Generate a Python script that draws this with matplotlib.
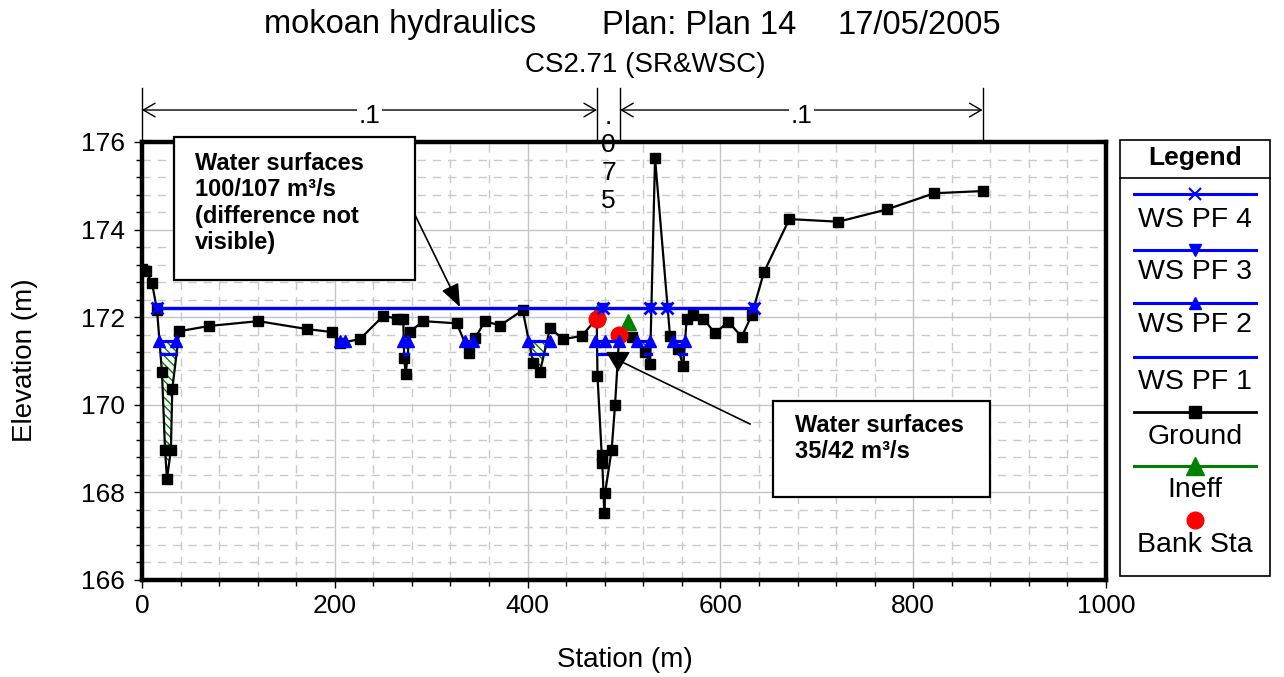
import numpy as np
import matplotlib
matplotlib.use("Agg")
import matplotlib.pyplot as plt
import matplotlib.transforms as mtrans
from matplotlib.patches import Rectangle
from matplotlib.ticker import MultipleLocator

plt.rcParams['font.family'] = ['Liberation Sans', 'DejaVu Sans']
plt.rcParams['hatch.linewidth'] = 1.0

# ---------------- data ----------------
ground_sta = [0, 4, 10.4, 15.6, 20.7, 23.9, 25.9, 30.0, 31.4, 38.7, 69.8, 120.6, 170.9,
              197.4, 205.4, 226.1, 250.3, 264.2, 271.0, 272.0, 273.6, 278.0, 291.8,
              326.5, 339.5, 345.4, 355.8, 371.4, 394.9, 405.9, 412.9, 423.2, 437.0,
              456.1, 471.7, 472.5, 476.9, 477.5, 479.6, 480.3, 487.2, 490.7, 495.1,
              508.0, 521.8, 527.0, 532.2, 547.7, 556.3, 561.5, 565.0, 571.9, 582.3,
              594.4, 608.2, 622.1, 632.5, 645.2, 671.5, 722.3, 772.5, 821.9, 872.1]
ground_elev = [173.10, 173.05, 172.78, 172.16, 170.75, 168.97, 168.31, 168.97, 170.36,
               171.68, 171.80, 171.91, 171.73, 171.66, 171.41, 171.50, 172.03, 171.97,
               171.97, 171.06, 170.70, 171.67, 171.91, 171.86, 171.18, 171.52, 171.91,
               171.81, 172.16, 170.95, 170.76, 171.75, 171.50, 171.57, 171.97, 170.66,
               168.85, 168.66, 167.52, 167.98, 168.97, 170.00, 171.60, 171.55, 171.20,
               170.93, 175.63, 171.58, 171.27, 170.88, 171.97, 172.05, 171.97, 171.63,
               171.90, 171.55, 172.05, 173.03, 174.24, 174.18, 174.46, 174.83, 174.88]

ws_high_sta = [15.6, 478.6, 527.0, 545.0, 634.9]
ws_pf4_elev = 172.20
ws_pf3_elev = 172.20

ws_pf2_elev = 171.45
ws_pf2_segments = [[18.1, 34.8], [205.4, 210.6], [271.1, 276.3], [335.1, 343.8],
                   [400.9, 423.2], [470.0, 480.3, 495.1], [513.2, 527.0], [551.1, 563.3]]

ws_pf1_elev = 171.15
ws_pf1_segments = [[19.5, 35.5], [271.8, 275.5], [403.0, 420.0], [471.9, 493.8],
                   [521.5, 527.5], [557.0, 564.0]]

ineff_sta = [473.4, 504.6]
ineff_elev = [172.15, 171.88]

bank_sta = [471.7, 495.1]
bank_elev = [171.97, 171.60]

ineff_ranges = [(0, 470), (500, 640)]

n_bounds = [0, 472, 496, 872]
n_values = ['.1', '.075', '.1']

x_ticks = [0, 200, 400, 600, 800, 1000]
y_ticks = [166, 168, 170, 172, 174, 176]

title_parts = ['mokoan hydraulics', 'Plan: Plan 14', '17/05/2005']
subtitle = 'CS2.71 (SR&WSC)'

legend_labels = ['WS PF 4', 'WS PF 3', 'WS PF 2', 'WS PF 1', 'Ground', 'Ineff', 'Bank Sta']

# ---------------- figure ----------------
W, H = 1284, 677
fig = plt.figure(figsize=(W / 100, H / 100), dpi=100)
ax = fig.add_axes([142 / W, 1 - 580 / H, 964 / W, 438 / H])
ax.set_xlim(0, 1000)
ax.set_ylim(166, 176)
ax.set_xticks(x_ticks)
ax.set_yticks(y_ticks)
ax.xaxis.set_minor_locator(MultipleLocator(40))
ax.yaxis.set_minor_locator(MultipleLocator(0.4))
ax.grid(which='major', color='#c4c4c4', lw=1.0, ls='-')
ax.grid(which='minor', color='#cacaca', lw=1.0, ls=(0, (6, 5)))
ax.set_axisbelow(True)
for s in ax.spines.values():
    s.set_linewidth(3.2)
ax.tick_params(which='major', direction='out', length=6, width=1, labelsize=19, pad=4)
ax.tick_params(which='minor', direction='out', length=4, width=1)
ax.tick_params(axis='y', which='major', pad=6)

gs = np.array(ground_sta)
ge = np.array(ground_elev)

# ineffective (hatched) areas
xx = np.union1d(np.linspace(0, 1000, 4001), gs)
gg = np.interp(xx, gs, ge)
for a, b in ineff_ranges:
    m = (xx >= a) & (xx <= b)
    ax.fill_between(xx, np.minimum(gg, ws_pf2_elev), ws_pf2_elev, where=m,
                    facecolor='none', edgecolor='green', hatch='\\' * 4, lw=0, zorder=2)

# ground
ax.plot(gs, ge, color='black', lw=1.6, marker='s', ms=7.8, zorder=3)
# ineff & bank
ax.plot(ineff_sta, ineff_elev, ls='none', marker='^', color='green', ms=11, zorder=4)
ax.plot(bank_sta, bank_elev, ls='none', marker='o', color='red', ms=12, zorder=5)
# water surfaces
for seg in ws_pf1_segments:
    ax.plot(seg, [ws_pf1_elev] * len(seg), color='blue', lw=2.3, zorder=6)
for seg in ws_pf2_segments:
    ax.plot(seg, [ws_pf2_elev] * len(seg), color='blue', lw=2.3, marker='^', ms=8.5, zorder=6)
ax.plot(ws_high_sta, [ws_pf3_elev] * len(ws_high_sta), color='blue', lw=2.3,
        marker='v', ms=7, zorder=7)
ax.plot(ws_high_sta, [ws_pf4_elev] * len(ws_high_sta), color='blue', lw=2.3,
        marker='x', ms=8, mew=2, zorder=8)

# Manning's n boundaries above the plot
trans = mtrans.blended_transform_factory(ax.transData, ax.transAxes)
for b in n_bounds:
    ax.plot([b, b], [1.0, 1.123], transform=trans, color='black', lw=1.0, clip_on=False)
for i, lab in enumerate(n_values):
    a, b = n_bounds[i], n_bounds[i + 1]
    mid = (a + b) / 2
    if b - a > 100:
        ax.annotate('', xy=(b, 1.073), xytext=(a, 1.073), xycoords=trans, textcoords=trans,
                    arrowprops=dict(arrowstyle='<->,head_length=0.6,head_width=0.35',
                                    mutation_scale=14, lw=1.0, color='black',
                                    shrinkA=0, shrinkB=0), annotation_clip=False)
        ax.text(mid, 1.0605, lab, transform=trans, ha='center', va='center', fontsize=19,
                bbox=dict(facecolor='white', edgecolor='none', pad=1), zorder=20,
                clip_on=False)
    else:
        for k, ch in enumerate(lab):
            yfrac = (580 - (124 + 28 * k)) / 438
            ax.text(mid, yfrac, ch, transform=trans, ha='center', va='baseline',
                    fontsize=19, zorder=20, clip_on=False)

# titles and labels
title_x = [400, 699, 919]
for t, x in zip(title_parts, title_x):
    fig.text(x / W, 1 - 25 / H, t, ha='center', va='center', fontsize=23.5)
fig.text(645 / W, 1 - 65 / H, subtitle, ha='center', va='center', fontsize=20)
fig.text(625 / W, 1 - 660 / H, 'Station (m)', ha='center', va='center', fontsize=20)
fig.text(25 / W, 1 - 360 / H, 'Elevation (m)', ha='center', va='center', fontsize=20,
         rotation=90)

# ---------------- overlay (annotations + legend) ----------------
ov = fig.add_axes([0, 0, 1, 1], zorder=10)
ov.set_xlim(0, W)
ov.set_ylim(H, 0)
ov.axis('off')

ov.add_patch(Rectangle((174, 137), 241, 143, facecolor='white', edgecolor='black', lw=1.6))
box1 = ['Water surfaces', '100/107 m\u00b3/s', '(difference not', 'visible)']
for line, y in zip(box1, [163, 190, 217, 243]):
    ov.text(195, y, line, ha='left', va='center', fontsize=17, fontweight='bold')
ov.annotate('', xy=(460, 307), xytext=(415, 215),
            arrowprops=dict(arrowstyle='-|>,head_length=1.0,head_width=0.4', mutation_scale=14,
                            color='black', lw=1.2, shrinkA=0, shrinkB=0))

ov.add_patch(Rectangle((773, 401), 217, 96, facecolor='white', edgecolor='black', lw=1.6))
box2 = ['Water surfaces', '35/42 m\u00b3/s']
for line, y in zip(box2, [425, 452]):
    ov.text(795, y, line, ha='left', va='center', fontsize=17, fontweight='bold')
ov.plot([750, 622], [424, 362], color='black', lw=1.2)
ov.annotate('', xy=(618, 372), xytext=(618, 352),
            arrowprops=dict(arrowstyle='-|>,head_length=1.0,head_width=0.6', mutation_scale=13,
                            color='black', lw=1.0, shrinkA=0, shrinkB=0))

# legend
ov.add_patch(Rectangle((1120, 140), 150, 436, facecolor='white', edgecolor='black', lw=1.2))
ov.plot([1120, 1270], [178, 178], color='black', lw=1.2)
ov.text(1195, 158, 'Legend', ha='center', va='center', fontsize=19, fontweight='bold')
lx = [1134, 1256]
line_y = [194, 250, 303, 357, 412, 466, 520]
label_y = [220, 272, 325, 382, 437, 490, 545]
styles = [dict(color='blue', lw=2.2, marker='x', ms=8, mew=1.5),
          dict(color='blue', lw=2.2, marker='v', ms=8),
          dict(color='blue', lw=2.2, marker='^', ms=8),
          dict(color='blue', lw=2.2),
          dict(color='black', lw=2.0, marker='s', ms=8),
          dict(color='green', lw=2.2, marker='^', ms=13),
          dict(color='red', lw=0, marker='o', ms=12)]
for st, ly, ty, lab in zip(styles, line_y, label_y, legend_labels):
    if st.get('lw', 1) > 0:
        ov.plot(lx, [ly, ly], color=st['color'], lw=st['lw'])
    if 'marker' in st:
        ov.plot([1195], [ly], ls='none', color=st['color'], marker=st['marker'],
                ms=st['ms'], mew=st.get('mew', 1))
    ov.text(1195, ty, lab, ha='center', va='center', fontsize=20.5)

fig.savefig('out.png', dpi=100)
